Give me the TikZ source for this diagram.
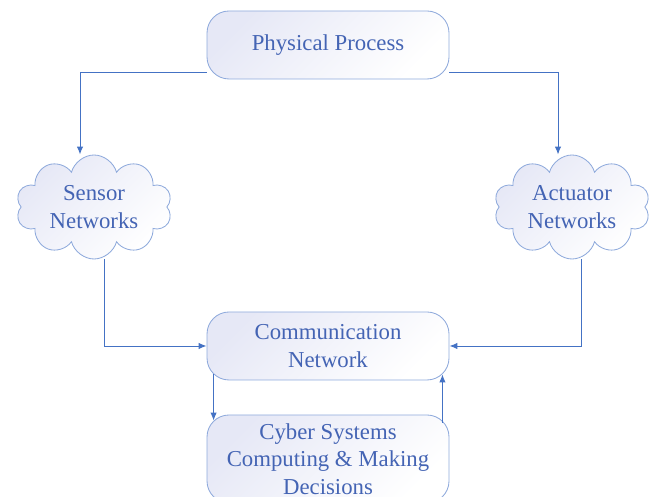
\documentclass[tikz,border=0pt]{standalone}
\usepackage{fontspec}
\setmainfont{Liberation Serif}
\usetikzlibrary{shapes.symbols,arrows.meta}

\definecolor{lineblue}{RGB}{68,114,196}
\definecolor{edgeblue}{RGB}{143,170,220}
\definecolor{fillblue}{RGB}{230,232,246}
\definecolor{textblue}{RGB}{68,100,180}

\tikzset{
  boxtext/.style={text=textblue, align=center, font=\fontsize{16.2}{19.5}\selectfont},
  procbox/.style={boxtext, draw=edgeblue, line width=0.6pt, rounded corners=0.55cm,
    minimum width=6.05cm, minimum height=1.7cm,
    top color=fillblue, bottom color=white, shading angle=45},
  cloudnode/.style={boxtext, cloud, cloud puffs=10, cloud ignores aspect, draw=edgeblue,
    line width=0.6pt, minimum width=3.9cm, minimum height=2.6cm, inner sep=0pt,
    top color=fillblue, bottom color=white, shading angle=45},
  flow/.style={draw=lineblue, line width=0.7pt, -{Latex[length=2mm,width=1.6mm]}}
}

\begin{document}
\begin{tikzpicture}
	\useasboundingbox (0,0) rectangle (16.35,12.425);
	\clip (0,0) rectangle (16.35,12.425);
	\node (pp) at (8.2,11.3) [procbox] {Physical Process};
	\node (sn) at (2.35,7.25) [cloudnode] {Sensor\\Networks};
	\node (an) at (14.3,7.25) [cloudnode] {Actuator\\Networks};
	\node (cn) at (8.2,3.775) [procbox] {Communication\\Network};
	\node (cs) at (8.2,0.95) [procbox, minimum height=2.2cm] {Cyber Systems\\Computing \& Making\\Decisions};
	% physical process to the two clouds
	\draw[flow] ([yshift=0.175cm]pp.south west) -| ([xshift=-0.35cm]sn.north);
	\draw[flow] ([yshift=0.175cm]pp.south east) -| ([xshift=-0.35cm]an.north);
	% clouds into the communication network
	\draw[flow] ([xshift=0.25cm]sn.south) |- (cn.west);
	\draw[flow] ([xshift=0.225cm]an.south) |- (cn.east);
	% loop with the cyber systems
	\draw[flow] ([xshift=0.175cm,yshift=0.15cm]cn.south west) -- ([xshift=0.175cm,yshift=-0.15cm]cs.north west);
	\draw[flow] ([xshift=-0.175cm,yshift=-0.2cm]cs.north east) -- ([xshift=-0.175cm,yshift=0.15cm]cn.south east);
\end{tikzpicture}
\end{document}
